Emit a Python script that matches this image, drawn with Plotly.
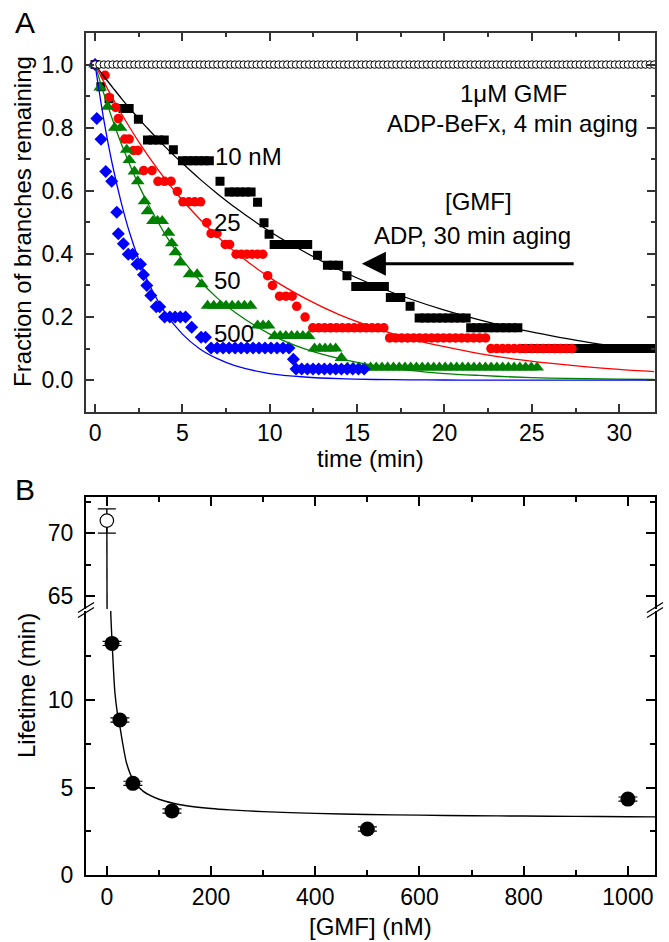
import numpy as np
import plotly.graph_objects as go

# ---------------- Panel A data: step runs (start time, end time, fraction) ----------------
DT = 1.0 / 3.0       # sampling interval of the ADP series (min)
DT_BEFX = 0.25       # sampling interval of the ADP-BeFx series (min)

black_t0 = [0, 0.33, 0.8, 1.6, 2.48, 3.0, 4.48, 5.0, 7.15, 7.67, 9.3, 9.67, 9.96, 10.25, 12.73, 13.3, 14.42, 14.92, 16.9, 18.03, 18.55, 21.5, 24.5]
black_t1 = [0, 0.33, 0.8, 1.95, 2.48, 3.96, 4.48, 6.54, 7.15, 8.93, 9.3, 9.67, 9.96, 12.17, 12.73, 13.94, 14.42, 16.56, 17.5, 18.03, 21.24, 24.2, 31.9]
black_y = [1.0, 0.93, 0.892, 0.861, 0.827, 0.761, 0.73, 0.695, 0.63, 0.596, 0.564, 0.499, 0.462, 0.43, 0.396, 0.364, 0.331, 0.297, 0.262, 0.234, 0.197, 0.166, 0.10]

red_t0 = [0, 0.57, 0.8, 1.18, 1.33, 1.7, 2.2, 2.78, 3.6, 4.71, 5.03, 6.39, 6.64, 7.45, 8.07, 9.88, 10.15, 10.56, 11.54, 12.02, 12.46, 16.86, 22.66]
red_t1 = [0, 0.57, 0.8, 1.18, 1.33, 1.95, 2.45, 3.26, 4.35, 4.71, 6.04, 6.39, 6.98, 7.7, 9.6, 9.88, 10.15, 11.28, 11.54, 12.02, 16.53, 22.35, 27.3]
red_y = [1.0, 0.966, 0.896, 0.864, 0.829, 0.764, 0.728, 0.664, 0.63, 0.598, 0.565, 0.499, 0.465, 0.43, 0.399, 0.331, 0.30, 0.266, 0.234, 0.20, 0.166, 0.134, 0.10]

green_t0 = [0, 0.29, 0.72, 1.12, 1.81, 1.96, 2.25, 2.44, 2.83, 3.0, 3.31, 4.2, 4.39, 4.6, 4.87, 5.41, 6.1, 6.44, 9.3, 10.27, 12.56, 14.1, 14.45]
green_t1 = [0, 0.29, 0.72, 1.46, 1.81, 1.96, 2.25, 2.44, 2.83, 3.0, 3.84, 4.2, 4.39, 4.6, 4.87, 5.84, 6.1, 8.9, 9.93, 12.22, 13.77, 14.1, 25.3]
green_y = [1.0, 0.927, 0.866, 0.80, 0.73, 0.698, 0.661, 0.63, 0.567, 0.535, 0.504, 0.467, 0.434, 0.405, 0.373, 0.336, 0.304, 0.236, 0.173, 0.14, 0.10, 0.07, 0.04]

blue_t0 = [0, 0.1, 0.34, 0.61, 0.95, 1.24, 1.33, 1.62, 1.9, 2.4, 2.77, 2.96, 3.19, 3.5, 3.98, 5.53, 6.07, 6.64, 11.35, 11.5]
blue_t1 = [0, 0.1, 0.34, 0.61, 0.95, 1.24, 1.33, 1.62, 2.15, 2.6, 2.77, 2.96, 3.19, 3.7, 5.18, 5.53, 6.32, 11.1, 11.35, 15.4]
blue_y = [1.0, 0.829, 0.763, 0.661, 0.63, 0.532, 0.464, 0.432, 0.399, 0.367, 0.334, 0.30, 0.268, 0.233, 0.20, 0.168, 0.136, 0.102, 0.066, 0.035]

befx_t0 = [0]
befx_t1 = [32.0]
befx_y = [1.0]

# fitted curves
fit_t = [0, 0.5, 1, 1.5, 2, 2.5, 3, 4, 5, 6, 7, 8, 10, 12, 14, 16, 18, 20, 22, 24, 26, 28, 30, 32]
fit_black = [1, 0.963, 0.928, 0.893, 0.860, 0.829, 0.798, 0.740, 0.687, 0.637, 0.591, 0.548, 0.471, 0.406, 0.349, 0.300, 0.258, 0.222, 0.191, 0.164, 0.142, 0.122, 0.105, 0.090]
fit_red = [1, 0.945, 0.894, 0.845, 0.799, 0.755, 0.714, 0.638, 0.570, 0.510, 0.455, 0.407, 0.325, 0.260, 0.207, 0.166, 0.132, 0.106, 0.084, 0.067, 0.054, 0.043, 0.034, 0.027]
fit_green = [1, 0.908, 0.825, 0.749, 0.681, 0.618, 0.562, 0.463, 0.382, 0.315, 0.260, 0.215, 0.146, 0.099, 0.068, 0.046, 0.031, 0.021, 0.015, 0.010, 0.0067, 0.0046, 0.0031, 0.0021]
fit_blue = [1, 0.825, 0.681, 0.562, 0.463, 0.382, 0.315, 0.215, 0.146, 0.099, 0.068, 0.046, 0.021, 0.010, 0.0046, 0.0021, 0.0010, 0.0005, 0.0002, 0.0001, 0, 0, 0, 0]

# ---------------- Panel B data ----------------
gmf_nM = [10, 25, 50, 125, 500, 1000]
lifetime = [13.24, 8.86, 5.24, 3.66, 2.63, 4.34]
lifetime_err = [0.12, 0.12, 0.12, 0.12, 0.12, 0.12]
befx_gmf = [0]
befx_life = [71.0]
befx_err_plus = [0.93]
befx_err_minus = [1.0]

fitB_up_x = [0, 0.3, 0.6]
fitB_up_y = [71.0, 66.0, 61.0]
fitB_lo_x = [5, 7.7, 10.2, 15.4, 20, 25, 30, 37.8, 50.6, 70, 100, 127.5, 150, 200, 236, 300, 400, 500, 600, 700, 800, 900, 1000, 1052]
fitB_lo_y = [19.5, 14.86, 13.24, 10.45, 9.3, 8.5, 7.6, 6.4, 5.43, 4.78, 4.33, 4.1, 3.97, 3.8, 3.72, 3.62, 3.52, 3.46, 3.42, 3.39, 3.37, 3.35, 3.33, 3.32]


def expand(t0, t1, y, dt):
    ts, ys = [], []
    for a, b, v in zip(t0, t1, y):
        n = max(1, int(round((b - a) / dt)) + 1)
        for t in np.linspace(a, b, n):
            ts.append(float(t))
            ys.append(v)
    return ts, ys


FONT = "Liberation Sans, Arial, sans-serif"
fig = go.Figure()

series = [
    (black_t0, black_t1, black_y, "black", "square", 9),
    (red_t0, red_t1, red_y, "#ff0000", "circle", 9.5),
    (green_t0, green_t1, green_y, "#008000", "triangle-up", 12),
    (blue_t0, blue_t1, blue_y, "#0000ff", "diamond", 10),
]
for t0, t1, yv, col, sym, sz in series:
    tx, ty = expand(t0, t1, yv, DT)
    fig.add_trace(go.Scatter(x=tx, y=ty, mode="markers", xaxis="x", yaxis="y",
                             marker=dict(symbol=sym, size=sz, color=col, line=dict(width=0)),
                             showlegend=False))

for fy, col in [(fit_black, "black"), (fit_red, "#ff0000"), (fit_green, "#008000"), (fit_blue, "#0000ff")]:
    fig.add_trace(go.Scatter(x=fit_t, y=fy, mode="lines", xaxis="x", yaxis="y",
                             line=dict(color=col, width=1.3, shape="spline", smoothing=0.8),
                             showlegend=False))

tx, ty = expand(befx_t0, befx_t1, befx_y, DT_BEFX)
fig.add_trace(go.Scatter(x=tx, y=ty, mode="markers", xaxis="x", yaxis="y",
                         marker=dict(symbol="circle", size=7.5, color="white", line=dict(color="black", width=1)),
                         showlegend=False))

# Panel B
fig.add_trace(go.Scatter(x=fitB_lo_x, y=fitB_lo_y, mode="lines", xaxis="x2", yaxis="y2",
                         line=dict(color="black", width=1.4, shape="spline", smoothing=0.7), showlegend=False))
fig.add_trace(go.Scatter(x=fitB_up_x, y=fitB_up_y, mode="lines", xaxis="x3", yaxis="y3",
                         line=dict(color="black", width=1.4), showlegend=False))
fig.add_trace(go.Scatter(x=gmf_nM, y=lifetime, mode="markers", xaxis="x2", yaxis="y2",
                         marker=dict(symbol="circle", size=15, color="black"),
                         error_y=dict(type="data", array=lifetime_err, color="black", width=9.5, thickness=1.2),
                         showlegend=False))
fig.add_trace(go.Scatter(x=befx_gmf, y=befx_life, mode="markers", xaxis="x3", yaxis="y3",
                         marker=dict(symbol="circle", size=13.5, color="white", line=dict(color="black", width=1.2)),
                         error_y=dict(type="data", symmetric=False, array=befx_err_plus, arrayminus=befx_err_minus,
                                      color="black", width=9, thickness=1.4),
                         showlegend=False))

tickfont = dict(family=FONT, size=23, color="black")
A_ax = dict(showline=True, linewidth=2, linecolor="#333", mirror="ticks", ticks="inside", automargin=False,
            ticklen=8, tickwidth=1.5, tickcolor="#333", tickfont=tickfont, zeroline=False, showgrid=False)
B_ax = dict(showline=True, linewidth=2, linecolor="black", ticks="inside", automargin=False,
            ticklen=9, tickwidth=1.8, tickcolor="black", tickfont=tickfont, zeroline=False, showgrid=False)

xB_range = [-40, 1052]
fig.update_layout(
    width=669, height=942,
    margin=dict(l=86, r=14, t=33, b=67),
    paper_bgcolor="white", plot_bgcolor="white",
    font=dict(family=FONT, size=24, color="black"),
    xaxis=dict(**A_ax, domain=[0, 1], anchor="y", range=[-0.52, 32.05], tick0=0, dtick=5,
               minor=dict(dtick=2.5, ticklen=4, tickwidth=1.5, tickcolor="#333", ticks="inside"),
               ticklabelstandoff=0),
    yaxis=dict(**A_ax, domain=[0.5502, 1], anchor="x", range=[-0.1, 1.1], tick0=0, dtick=0.2,
               tickformat=".1f",
               minor=dict(dtick=0.1, ticklen=4, tickwidth=1.5, tickcolor="#333", ticks="inside"),
               ticklabelstandoff=6),
    xaxis2=dict(**B_ax, mirror=False, domain=[0, 1], anchor="y2", range=xB_range, tick0=0, dtick=200,
                minor=dict(dtick=100, ticklen=5, tickwidth=1.5, tickcolor="black", ticks="inside"),
                ticklabelstandoff=0),
    yaxis2=dict(**B_ax, mirror="ticks", domain=[0, 0.3135], anchor="x2", range=[0, 15.09],
                tickvals=[0, 5, 10],
                minor=dict(tickvals=[2.5, 7.5, 12.5], ticklen=5, tickwidth=1.5, tickcolor="black", ticks="inside"),
                ticklabelstandoff=6),
    xaxis3=dict(**B_ax, mirror=False, side="top", domain=[0, 1], anchor="y3", range=xB_range, tick0=0, dtick=200,
                showticklabels=False,
                minor=dict(dtick=100, ticklen=5, tickwidth=1.5, tickcolor="black", ticks="inside")),
    yaxis3=dict(**B_ax, mirror="ticks", domain=[0.3159, 0.4493], anchor="x3", range=[63.97, 72.9],
                tickvals=[65, 70],
                minor=dict(tickvals=[67.5, 72.5], ticklen=5, tickwidth=1.5, tickcolor="black", ticks="inside"),
                ticklabelstandoff=6),
)


def px2paper(px, py):
    return (px - 86) / 569.0, (875 - py) / 842.0


shapes = []
for cx in (86, 655):
    for dy in (-2.5, 2.5):
        x0, y0 = px2paper(cx - 8, 615 + dy)
        x1, y1 = px2paper(cx + 8, 605 + dy)
        shapes.append(dict(type="line", xref="paper", yref="paper", x0=x0, y0=y0, x1=x1, y1=y1,
                           line=dict(color="black", width=1.3)))
fig.update_layout(shapes=shapes)

ann = []


def paper_text(txt, px, py, size=24, angle=0):
    x, y = px2paper(px, py)
    ann.append(dict(text=txt, xref="paper", yref="paper", x=x, y=y, showarrow=False, textangle=angle,
                    font=dict(family=FONT, size=size), xanchor="center", yanchor="middle"))


paper_text("A", 25, 22, size=30)
paper_text("B", 25, 489, size=30)
paper_text("time (min)", 370.5, 458)
paper_text("Fraction of branches remaining", 23, 222, angle=-90)
paper_text("[GMF] (nM)", 370.5, 926)
paper_text("Lifetime (min)", 26, 686, angle=-90)

A_labels = [("10 nM", 6.75, 0.709), ("25", 6.68, 0.499), ("50", 6.68, 0.315), ("500", 6.68, 0.147)]
for txt, x, y in A_labels:
    ann.append(dict(text=txt, xref="x", yref="y", x=x, y=y, showarrow=False, xanchor="left",
                    yanchor="middle", font=dict(family=FONT, size=24)))
ann.append(dict(text="1μM GMF", xref="x", yref="y", x=23.95, y=0.908, showarrow=False,
                xanchor="center", yanchor="middle", font=dict(family=FONT, size=24)))
ann.append(dict(text="ADP-BeFx, 4 min aging", xref="x", yref="y", x=31.2, y=0.813, showarrow=False,
                xanchor="right", yanchor="middle", font=dict(family=FONT, size=24)))
ann.append(dict(text="[GMF]", xref="x", yref="y", x=21.94, y=0.567, showarrow=False,
                xanchor="center", yanchor="middle", font=dict(family=FONT, size=24)))
ann.append(dict(text="ADP, 30 min aging", xref="x", yref="y", x=21.6, y=0.457, showarrow=False,
                xanchor="center", yanchor="middle", font=dict(family=FONT, size=24)))
ann.append(dict(text="", xref="x", yref="y", x=15.27, y=0.369, axref="x", ayref="y", ax=27.48, ay=0.369,
                showarrow=True, arrowhead=2, arrowsize=1.6, arrowwidth=3, arrowcolor="black"))
fig.update_layout(annotations=ann)

fig.write_html("out.html", config={"displayModeBar": False},
               post_script="document.body.style.margin='0px';document.body.style.padding='0px';")
